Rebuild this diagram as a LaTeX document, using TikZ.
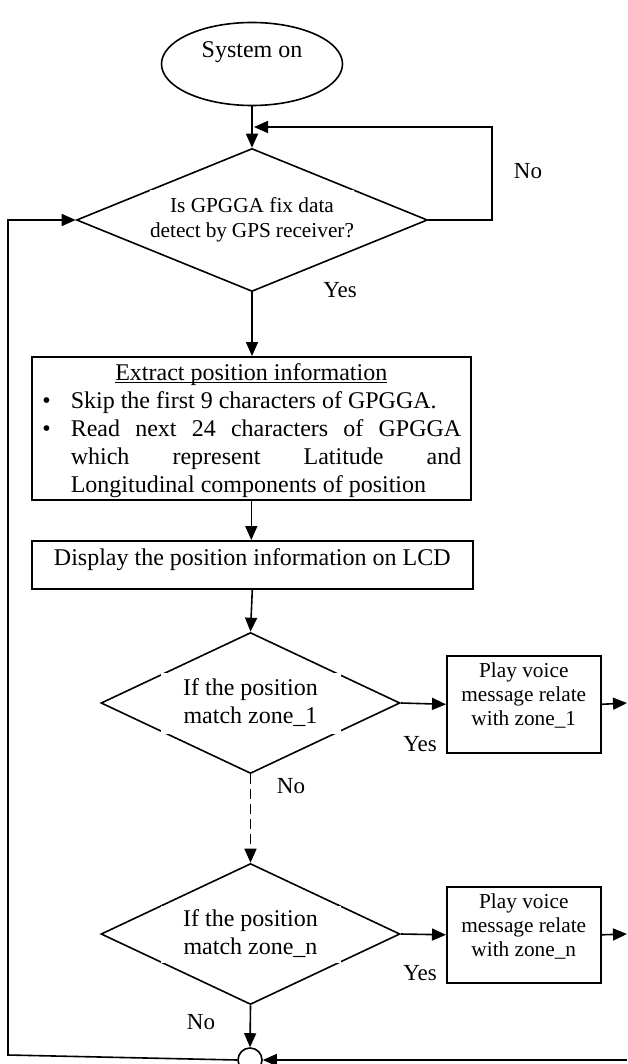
\documentclass[tikz,border=0pt]{standalone}
\usepackage{fontspec}
\setmainfont{Liberation Serif}
\usetikzlibrary{arrows.meta,shapes.geometric}
\newcommand{\dtext}[3]{\smash{\makebox[0pt]{\raisebox{\dimexpr -#2pt/2\relax}{\setlength{\fboxsep}{0pt}\colorbox{white}{\parbox[b][#2pt][c]{#1pt}{\centering #3}}}}}}
\newcommand{\myul}[1]{\leavevmode\setbox0\hbox{#1}\rlap{\rule[-2.5pt]{\wd0}{1.2pt}}\box0}
\begin{document}
\begin{tikzpicture}[x=1pt,y=-1pt,line width=1.6pt,
  arr/.style={-{Triangle[length=14pt,width=12pt]}},
  lbl/.style={font=\fontsize{23}{27}\selectfont,inner sep=0pt},
  dia/.style={diamond,draw,minimum width=#1,inner sep=0pt},
  boxnode/.style={draw,inner sep=0pt,anchor=north west}]
\useasboundingbox (0,0) rectangle (627,1064);
% nodes
\node[ellipse,draw,minimum width=181pt,minimum height=83pt,inner sep=0pt,
  text height=10pt,text depth=22pt,font=\fontsize{24}{28}\selectfont] (start) at (252,64) {System on};
\node[dia=351pt,minimum height=143pt] (d1) at (252,220)
  {\dtext{204}{59}{\fontsize{21.3}{25}\selectfont Is GPGGA fix data\\detect by GPS receiver?}};
\node[draw,inner xsep=9.5pt,inner ysep=0pt,anchor=north west] (ext) at (31,356)
  {\parbox[c][143pt][t]{420pt}{\fontsize{24}{28}\selectfont\hyphenpenalty=10000 \tolerance=10000
   \vspace*{4pt}
   {\centering\myul{Extract position information}\strut\par}
   \noindent\hangindent=29.5pt\hangafter=1\makebox[29.5pt][l]{\hspace{1pt}\textbullet}Skip the first 9 characters of GPGGA.\strut\par
   \noindent\hangindent=29.5pt\hangafter=1\makebox[29.5pt][l]{\hspace{1pt}\textbullet}Read next 24 characters of GPGGA\linebreak which represent Latitude and\linebreak Longitudinal components of position\strut\par}};
\node[draw,minimum width=441pt,inner sep=0pt,text height=25pt,text depth=23pt,anchor=north west,
  font=\fontsize{24}{28}\selectfont] (disp) at (31,540) {Display the position information on LCD};
\node[dia=299pt,minimum height=141pt] (d2) at (250.5,703)
  {\dtext{180}{61}{\fontsize{24}{28}\selectfont If the position\\match zone\_1}};
\node[boxnode] (p1) at (446,655)
  {\parbox[c][97pt][t]{154pt}{\centering\fontsize{21.3}{24}\selectfont\vspace*{5pt}\strut Play voice\\message relate\\with zone\_1}};
\node[dia=299pt,minimum height=141pt] (d3) at (250.5,934)
  {\dtext{180}{57}{\fontsize{24}{28}\selectfont If the position\\match zone\_n}};
\node[boxnode] (p2) at (446,886)
  {\parbox[c][96pt][t]{154pt}{\centering\fontsize{21.3}{24}\selectfont\vspace*{5pt}\strut Play voice\\message relate\\with zone\_n}};
\node[circle,draw,minimum size=24pt,inner sep=0pt] (c) at (250,1060) {};
% labels
\node[lbl] (no1) at (528,171) {No};
\node[lbl] (yes1) at (340,290) {Yes};
\node[lbl] (yes2) at (420,744) {Yes};
\node[lbl] (no2) at (291,786) {No};
\node[lbl] (yes3) at (420,973) {Yes};
\node[lbl] (no3) at (201,1022) {No};
% helper coordinates
\coordinate (nr) at (492,127);
\coordinate (nl) at (254,127);
\coordinate (ll) at (8,1055);
\coordinate (o1) at (627,703);
\coordinate (o2) at (627,934);
\coordinate (in) at (627,1060);
% connectors
\draw[arr] (start.south) -- (d1.north);
\draw[arr] (d1.east) -| (nr) -- (nl);
\draw[arr] (c.west) -- (ll) |- (d1.west);
\draw[arr] (d1.south) -- (d1.south |- ext.north);
\draw[arr] (ext.south) -- (ext.south |- disp.north);
\draw[arr] (disp.south) -- (d2.north);
\draw[arr] (d2.east) -- (p1.west);
\draw[arr] (p1.east) -- (o1);
\draw[arr,dash pattern=on 10pt off 5pt] (d2.south) -- (d3.north);
\draw[arr] (d3.east) -- (p2.west);
\draw[arr] (p2.east) -- (o2);
\draw[arr] (d3.south) -- (c.north);
\draw[arr] (in) -- (c.east);
\end{tikzpicture}
\end{document}
